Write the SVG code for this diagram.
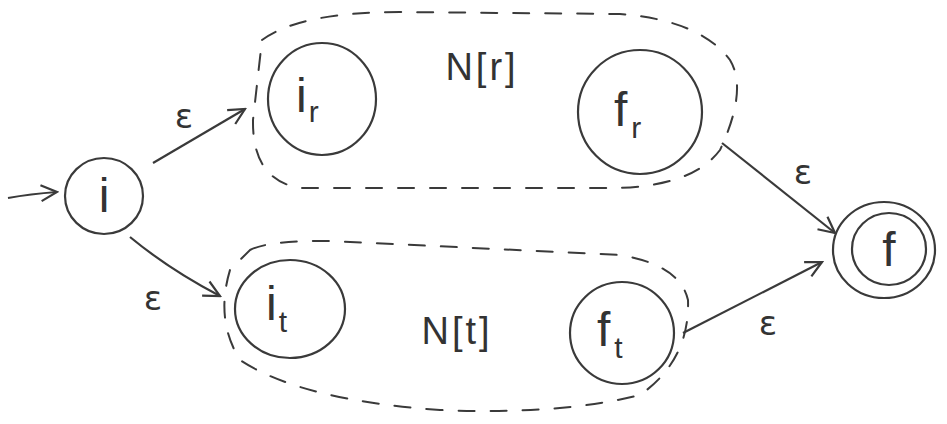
<svg xmlns="http://www.w3.org/2000/svg" width="947" height="424" viewBox="0 0 947 424">
<defs>
<style>
.st{fill:none;stroke:#3a3a3a;stroke-width:2.2}
.dash{fill:none;stroke:#3a3a3a;stroke-width:2;stroke-dasharray:16 16;stroke-linecap:round}
.lbl{font-family:"Liberation Sans",Arial,sans-serif;fill:#333;font-size:48px}
.sub{font-size:30px}
.eps{font-family:"DejaVu Sans",sans-serif;fill:#333;font-size:34px;text-anchor:middle}
.nm{font-family:"Liberation Sans",Arial,sans-serif;fill:#333;font-size:38px;text-anchor:middle;letter-spacing:3px}
</style>
<marker id="ah" viewBox="0 0 20 20" refX="18" refY="10" markerWidth="20" markerHeight="20" markerUnits="userSpaceOnUse" orient="auto">
<path d="M2 2 L18 10 L2 18" fill="none" stroke="#3a3a3a" stroke-width="2.2"/>
</marker>
</defs>
<rect width="947" height="424" fill="#ffffff"/>
<g id="group-r">
<path class="dash" d="M262 40 Q300 12 400 12 L620 14 Q700 20 730 60 Q748 90 720 150 Q690 190 600 188 L300 188 Q252 180 253 120 Z"/>
<text class="nm" x="482" y="80">N[r]</text>
</g>
<g id="group-t">
<path class="dash" d="M250 250 Q270 240 330 241 L620 255 Q680 265 688 300 Q690 360 640 395 Q560 415 440 410 Q300 400 240 360 Q215 320 230 270 Z"/>
<text class="nm" x="457" y="344">N[t]</text>
</g>
<g id="node-i">
<ellipse class="st" cx="104" cy="196" rx="39" ry="38"/>
<text class="lbl" x="104" y="212" text-anchor="middle">i</text>
</g>
<g id="node-ir">
<ellipse class="st" cx="322" cy="99" rx="54" ry="56"/>
<text class="lbl" x="296" y="112">i<tspan class="sub" dx="2" dy="10">r</tspan></text>
</g>
<g id="node-fr">
<ellipse class="st" cx="640" cy="112" rx="62" ry="62"/>
<text class="lbl" x="614" y="126">f<tspan class="sub" dx="4" dy="12">r</tspan></text>
</g>
<g id="node-it">
<ellipse class="st" cx="290" cy="309" rx="55" ry="49"/>
<text class="lbl" x="266" y="320">i<tspan class="sub" dx="2" dy="12">t</tspan></text>
</g>
<g id="node-ft">
<ellipse class="st" cx="622" cy="333" rx="52" ry="51"/>
<text class="lbl" x="597" y="346">f<tspan class="sub" dx="4" dy="12">t</tspan></text>
</g>
<g id="node-f">
<ellipse class="st" cx="884" cy="250" rx="51" ry="48"/>
<ellipse class="st" cx="889" cy="249" rx="37" ry="36"/>
<text class="lbl" x="889" y="266" text-anchor="middle">f</text>
</g>
<g id="connectors">
<path class="st" d="M8 198 Q30 194 57 192" marker-end="url(#ah)"/>
<path class="st" d="M153 163 L245 109" marker-end="url(#ah)"/>
<path class="st" d="M130 237 Q170 270 220 296" marker-end="url(#ah)"/>
<path class="st" d="M722 143 L835 233" marker-end="url(#ah)"/>
<path class="st" d="M683 333 L822 262" marker-end="url(#ah)"/>
<text class="eps" x="184" y="128">ε</text>
<text class="eps" x="153" y="310">ε</text>
<text class="eps" x="803" y="184">ε</text>
<text class="eps" x="768" y="335">ε</text>
</g>
</svg>
